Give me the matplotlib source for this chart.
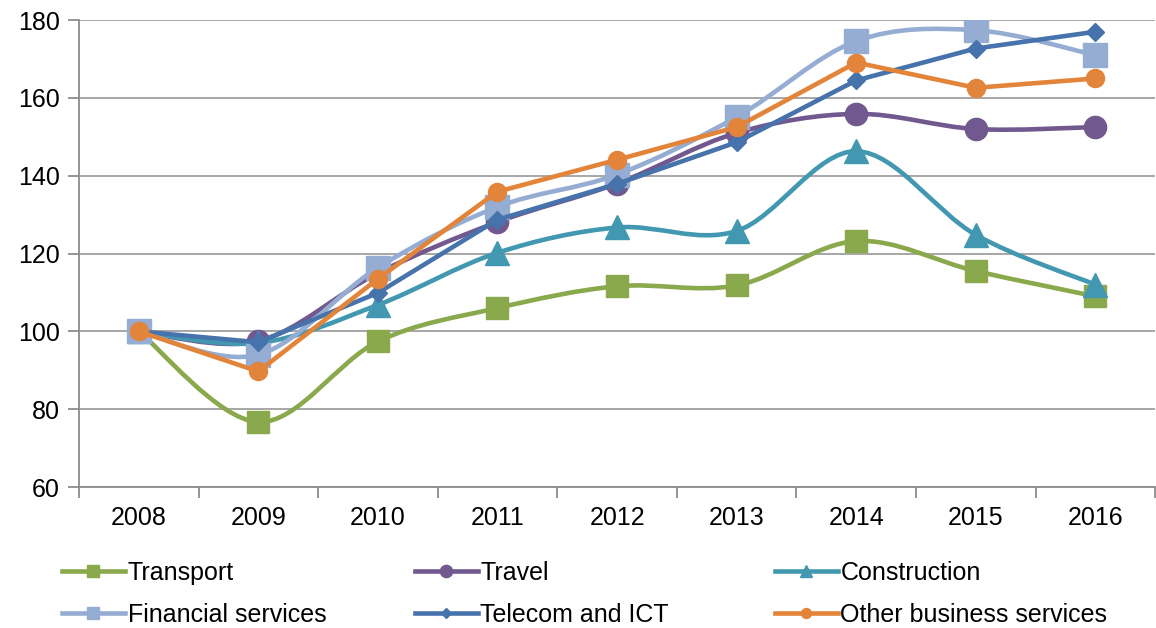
import matplotlib
matplotlib.use("Agg")
import matplotlib.pyplot as plt
from matplotlib.path import Path
from matplotlib.patches import PathPatch
from matplotlib.lines import Line2D
import numpy as np

plt.rcParams['font.family'] = ['Liberation Sans', 'DejaVu Sans']

years = ['2008', '2009', '2010', '2011', '2012', '2013', '2014', '2015', '2016']
transport = [100, 76.7, 97.4, 106.0, 111.6, 111.8, 123.2, 115.5, 109.0]
travel = [100, 97.5, 115.0, 128.1, 138.0, 151.0, 155.9, 152.0, 152.5]
construction = [100, 97.0, 106.8, 120.2, 126.7, 125.8, 146.3, 124.8, 112.0]
financial = [100, 94.0, 116.4, 132.0, 140.3, 155.1, 174.6, 177.4, 171.0]
telecom = [100, 97.2, 109.9, 128.7, 137.9, 148.6, 164.5, 172.7, 177.0]
other = [100, 89.7, 113.5, 135.9, 144.1, 152.5, 169.1, 162.6, 165.0]

names = ['Transport', 'Travel', 'Construction', 'Financial services',
         'Telecom and ICT', 'Other business services']
series = [transport, travel, construction, financial, telecom, other]
colors = ['#8AA84C', '#71588F', '#4298B0', '#95ACD3', '#4673AB', '#E2843A']
markers = ['s', 'o', '^', 's', 'D', 'o']
msizes = [16, 16, 17, 17, 9, 13]
smoothed = [True, True, True, True, False, False]

fig = plt.figure(figsize=(11.56, 6.28), dpi=100)
ax = fig.add_axes([0.0683, 0.2245, 0.931, 0.7435])

x = np.arange(len(years))


def line_path(xs, ys, smooth):
    pts = np.column_stack([xs, ys]).astype(float)
    n = len(pts)
    verts = [pts[0]]
    codes = [Path.MOVETO]
    for i in range(n - 1):
        p1 = pts[i]
        p2 = pts[i + 1]
        if smooth:
            p0 = pts[i - 1] if i > 0 else pts[i]
            p3 = pts[i + 2] if i + 2 < n else pts[i + 1]
            c1 = p1 + (p2 - p0) / 6.0
            c2 = p2 - (p3 - p1) / 6.0
            verts += [c1, c2, p2]
            codes += [Path.CURVE4] * 3
        else:
            verts.append(p2)
            codes.append(Path.LINETO)
    return Path(verts, codes)


handles = []
for k, (vals, c, m, ms, sm) in enumerate(zip(series, colors, markers, msizes, smoothed)):
    patch = PathPatch(line_path(x, vals, sm), facecolor='none', edgecolor=c,
                      lw=3.3, zorder=3 + 2 * k, capstyle='round', joinstyle='round')
    ax.add_patch(patch)
    ax.plot(x, vals, linestyle='none', marker=m, ms=ms, color=c, mec=c,
            mew=1, zorder=4 + 2 * k)
    handles.append(Line2D([], [], color=c, lw=3.3, marker=m,
                          ms=ms * 0.55, mec=c))

ax.set_xlim(-0.5, len(years) - 0.5)
ax.set_ylim(60, 180)
ax.set_yticks(np.arange(60, 181, 20))
ax.set_xticks(x)
ax.set_xticklabels(years)
ax.set_xticks(np.arange(-0.5, len(years), 1), minor=True)
ax.tick_params(axis='x', which='major', length=0, pad=14, labelsize=18)
ax.tick_params(axis='x', which='minor', length=8, width=1.3, color='#8C8C8C')
ax.tick_params(axis='y', length=8, width=1.3, color='#8C8C8C', labelsize=18, pad=6)
ax.grid(axis='y', color='#A6A6A6', lw=1.4, zorder=0)
ax.set_axisbelow(True)
for s in ['top', 'right']:
    ax.spines[s].set_visible(False)
for s in ['left', 'bottom']:
    ax.spines[s].set_color('#8C8C8C')
    ax.spines[s].set_linewidth(1.3)

col_x = [62 / 1156, 415 / 1156, 775 / 1156]
for j in range(3):
    hs = [handles[j], handles[j + 3]]
    ls = [names[j], names[j + 3]]
    fig.legend(hs, ls, loc='upper left', bbox_to_anchor=(col_x[j], 1 - 561 / 628),
               frameon=False, fontsize=18, handlelength=2.5, handletextpad=0.12,
               borderpad=0, borderaxespad=0, labelspacing=0.72)

fig.savefig('out.png', dpi=100)
